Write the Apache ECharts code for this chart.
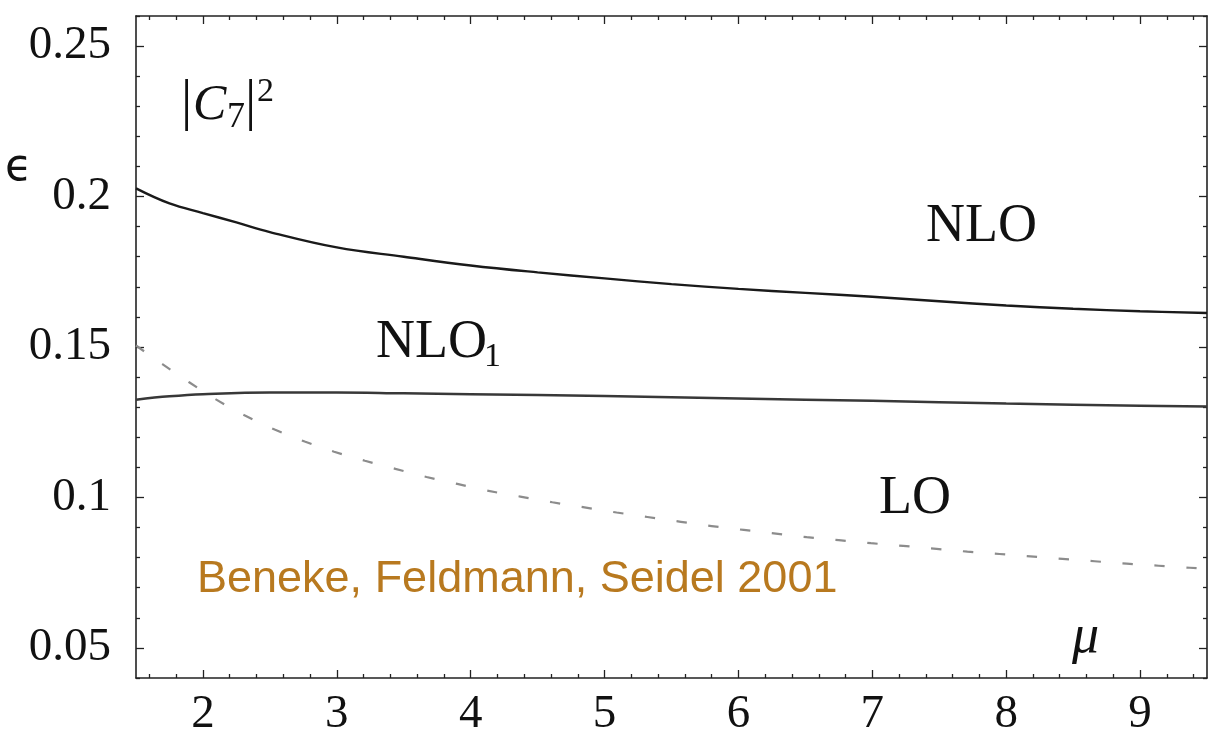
<!DOCTYPE html>
<html>
<head>
<meta charset="utf-8">
<script src="https://cdn.jsdelivr.net/npm/echarts@6/dist/echarts.min.js"></script>
<style>
html,body{margin:0;padding:0;background:#fff;}
#chart{width:1209px;height:732px;}
</style>
</head>
<body>
<div id="chart"></div>
<script>
// ---- data ----
const xTicks = [2, 3, 4, 5, 6, 7, 8, 9];
const yTicks = [0.05, 0.1, 0.15, 0.2, 0.25];
const yTickLabels = ['0.05', '0.1', '0.15', '0.2', '0.25'];

const muNLO  = [1.5, 1.75, 2.0, 2.25, 2.5, 3.0, 3.5, 4.0, 4.5, 5.0, 5.5, 6.0, 6.5, 7.0, 7.5, 8.0, 8.5, 9.0, 9.5];
const valNLO = [0.2027, 0.1977, 0.1945, 0.1914, 0.1882, 0.1831, 0.1800, 0.1771, 0.1748, 0.1728, 0.1709, 0.1693, 0.1680, 0.1667, 0.1652, 0.1638, 0.1627, 0.1619, 0.1613];

const muNLO1  = [1.5, 1.75, 2.0, 2.5, 3.0, 3.5, 4.0, 5.0, 6.0, 7.0, 8.0, 9.0, 9.5];
const valNLO1 = [0.1325, 0.1336, 0.1343, 0.1349, 0.1349, 0.1346, 0.1343, 0.1337, 0.1329, 0.1321, 0.1312, 0.1305, 0.1302];

const muLO  = [1.5, 1.7, 1.9, 2.1, 2.31, 2.54, 2.76, 2.98, 3.21, 3.43, 3.67, 3.9, 4.12, 4.37, 4.61, 4.85, 5.09, 5.32, 5.57, 5.8, 6.04, 6.28, 6.51, 6.75, 6.99, 7.23, 7.48, 7.71, 7.95, 8.18, 8.42, 8.66, 8.9, 9.14, 9.31, 9.5];
const valLO = [0.1505, 0.1442, 0.1382, 0.1325, 0.1273, 0.1225, 0.1186, 0.1152, 0.1122, 0.1096, 0.1068, 0.1045, 0.1023, 0.1003, 0.0984, 0.0967, 0.0950, 0.0935, 0.0919, 0.0905, 0.0892, 0.0880, 0.0868, 0.0858, 0.0848, 0.0839, 0.0829, 0.0820, 0.0812, 0.0804, 0.0796, 0.0788, 0.0780, 0.0773, 0.0768, 0.0763];

const X_MIN = 1.5, X_MAX = 9.5, Y_MIN = 0.04, Y_MAX = 0.26;

// minor tick positions (0.2 in x, 0.01 in y)
const xMinor = [];
for (let k = 8; k <= 47; k++) { if (k % 5 !== 0) xMinor.push(Math.round(k * 20) / 100); }
const yMinor = [];
for (let k = 4; k <= 26; k++) { if (k % 5 !== 0) yMinor.push(k / 100); }

const pair = (xs, ys) => xs.map((x, i) => [x, ys[i]]);

const serif = 'Liberation Serif';
const axisCol = '#222';

function xAx(pos, ticks, len, showLine, showLabel) {
  return {
    type: 'value', gridIndex: 0, position: pos, min: X_MIN, max: X_MAX,
    axisLine: { show: showLine, onZero: false, lineStyle: { color: axisCol, width: 1.6 } },
    axisTick: { show: true, inside: true, length: len, customValues: ticks, lineStyle: { color: axisCol, width: 1.3 } },
    axisLabel: showLabel ? { show: true, customValues: xTicks, fontFamily: serif, fontSize: 47, color: '#111', margin: 13 } : { show: false },
    splitLine: { show: false }
  };
}
function yAx(pos, ticks, len, showLine, showLabel) {
  return {
    type: 'value', gridIndex: 0, position: pos, min: Y_MIN, max: Y_MAX,
    axisLine: { show: showLine, onZero: false, lineStyle: { color: axisCol, width: 1.6 } },
    axisTick: { show: true, inside: true, length: len, customValues: ticks, lineStyle: { color: axisCol, width: 1.3 } },
    axisLabel: showLabel ? {
      show: true, customValues: yTicks, fontFamily: serif, fontSize: 47, color: '#111', margin: 25,
      formatter: v => { const i = yTicks.findIndex(t => Math.abs(t - v) < 1e-9); return i >= 0 ? yTickLabels[i] : ''; }
    } : { show: false },
    splitLine: { show: false }
  };
}

const chart = echarts.init(document.getElementById('chart'), null, { renderer: 'canvas' });

function txt(x, y, text, font, fill, align) {
  return {
    type: 'text', silent: true, z: 100,
    style: { x: x, y: y, text: text, font: font, fill: fill || '#111',
      textAlign: align || 'left', align: align || 'left', textVerticalAlign: 'middle', verticalAlign: 'middle' }
  };
}

chart.setOption({
  animation: false,
  backgroundColor: '#fff',
  grid: { left: 136, right: 2, top: 16, bottom: 54, containLabel: false, outerBoundsMode: 'none' },
  xAxis: [
    xAx('bottom', xTicks, 8, true, true),
    xAx('bottom', xMinor, 4, false, false),
    xAx('top', xTicks, 8, true, false),
    xAx('top', xMinor, 4, false, false)
  ],
  yAxis: [
    yAx('left', yTicks, 8, true, true),
    yAx('left', yMinor, 4, false, false),
    yAx('right', yTicks, 8, true, false),
    yAx('right', yMinor, 4, false, false)
  ],
  series: [
    { name: 'NLO', type: 'line', xAxisIndex: 0, yAxisIndex: 0, data: pair(muNLO, valNLO),
      smooth: 0.4, showSymbol: false, lineStyle: { color: '#1a1a1a', width: 2.4 } },
    { name: 'NLO1', type: 'line', xAxisIndex: 0, yAxisIndex: 0, data: pair(muNLO1, valNLO1),
      smooth: 0.4, showSymbol: false, lineStyle: { color: '#383838', width: 2.5 } },
    { name: 'LO', type: 'line', xAxisIndex: 0, yAxisIndex: 0, data: pair(muLO, valLO),
      smooth: 0.4, showSymbol: false, lineStyle: { color: '#8c8c8c', width: 2.2, type: [10, 22] } }
  ],
  graphic: { elements: [
    // |C7|^2
    txt(181, 104, '|', '56px ' + serif),
    txt(193, 106, 'C', 'italic 50px ' + serif),
    txt(227, 118, '7', '36px ' + serif),
    txt(245, 104, '|', '56px ' + serif),
    txt(257, 92, '2', '34px ' + serif),
    // epsilon
    txt(5, 169, '\u03F5', '44px "DejaVu Sans"'),
    // curve labels
    txt(926, 227, 'NLO', '54px ' + serif),
    txt(376, 343, 'NLO', '54px ' + serif),
    txt(484, 357, '1', '34px ' + serif),
    txt(879, 499, 'LO', '54px ' + serif),
    txt(1072, 638, '\u03BC', 'italic 54px ' + serif),
    // citation
    txt(197, 580, 'Beneke, Feldmann, Seidel 2001', '45px "Liberation Sans"', '#B8791F')
  ] }
});
</script>
</body>
</html>
